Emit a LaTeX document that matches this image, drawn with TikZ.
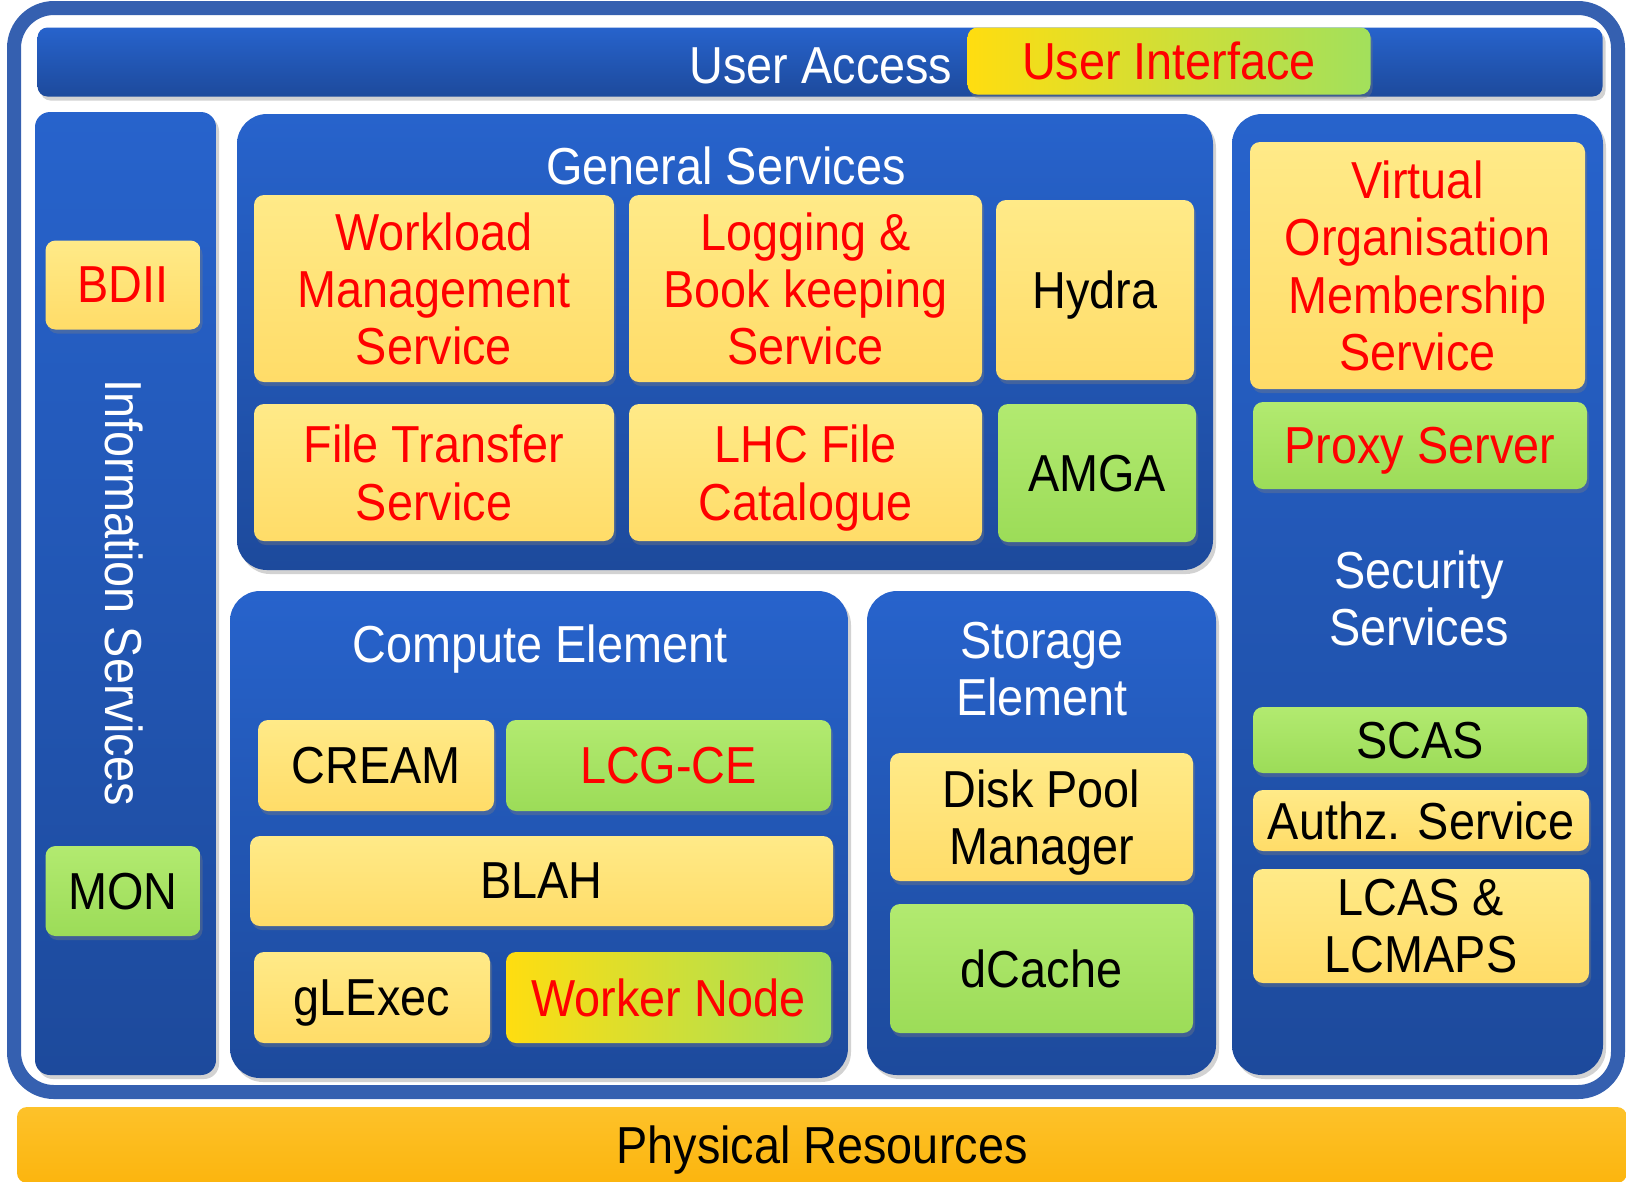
\documentclass[tikz,border=0pt]{standalone}
\usepackage{fontspec}
\setmainfont{Liberation Sans}[FakeStretch=0.9]
\usetikzlibrary{shadows}

\definecolor{frameblue}{HTML}{3560B0}
\definecolor{blu}{HTML}{2763CC}
\definecolor{bludark}{HTML}{1D4A9C}
\definecolor{ylw}{HTML}{FFDC68}
\definecolor{ylwtop}{HTML}{FFEA88}
\definecolor{grn}{HTML}{9CDC58}
\definecolor{grntop}{HTML}{B2EA70}
\definecolor{orng}{HTML}{FCB50E}
\definecolor{orngtop}{HTML}{FDC22A}
\definecolor{uiy}{HTML}{FFDD10}
\definecolor{uig}{HTML}{A2E05C}

\tikzstyle{frame} = [rectangle, rounded corners=4mm, draw=frameblue, line width=1.4mm, fill=white]
\tikzstyle{panel} = [rectangle, rounded corners=3mm, top color=blu, bottom color=bludark, drop shadow={opacity=0.35, shadow xshift=0.3mm, shadow yshift=-0.4mm}]
\tikzstyle{ybox} = [rectangle, rounded corners=1mm, align=center, text depth=0pt, top color=ylwtop, bottom color=ylw, drop shadow={opacity=0.35, shadow xshift=0.2mm, shadow yshift=-0.4mm}]
\tikzstyle{gbox} = [rectangle, rounded corners=1mm, align=center, text depth=0pt, top color=grntop, bottom color=grn, drop shadow={opacity=0.35, shadow xshift=0.2mm, shadow yshift=-0.4mm}]
\tikzstyle{ygbox} = [rectangle, rounded corners=1mm, align=center, text depth=0pt, left color=uiy, right color=uig, drop shadow={opacity=0.35, shadow xshift=0.2mm, shadow yshift=-0.4mm}]
\tikzstyle{title} = [align=center, text depth=0pt, text=white]

\begin{document}
\begin{tikzpicture}[x=0.1mm, y=-0.1mm, inner sep=0pt, font=\fontsize{14.8pt}{16.3pt}\selectfont]
\useasboundingbox (0,0) rectangle (1626,1181);

%Frame
\node (grid) [frame, minimum width=160.4mm, minimum height=108.4mm] at (816,550) {};

%User access
\node (access) [panel, rounded corners=1mm, minimum width=156.5mm, minimum height=6.9mm] at (820,62) {};
\node (accesstxt) [title] at (821,66) {User Access};
\node (ui) [ygbox, text=red, minimum width=40.3mm, minimum height=6.7mm] at (1169,61) {User Interface};

%Information
\node (info) [panel, rounded corners=1.5mm, minimum width=18.1mm, minimum height=96.3mm] at (125.5,593.5) {};
\node (infotxt) [title, rotate=-90] at (124,593) {Information Services};
\node (bdii) [ybox, text=red, minimum width=15.5mm, minimum height=8.9mm] at (123,285) {BDII};
\node (mon) [gbox, minimum width=15.5mm, minimum height=9mm] at (123,891) {MON};

%General
\node (general) [panel, minimum width=97.6mm, minimum height=45.6mm] at (725,342) {};
\node (generaltxt) [title] at (726,166) {General Services};
\node (wms) [ybox, text=red, minimum width=36mm, minimum height=18.7mm] at (434,288.5) {Workload\\Management\\Service};
\node (lb) [ybox, text=red, minimum width=35.3mm, minimum height=18.7mm] at (805.5,288.5) {Logging \&\\Book keeping\\Service};
\node (hydra) [ybox, minimum width=19.8mm, minimum height=18mm] at (1095,290) {Hydra};
\node (fts) [ybox, text=red, minimum width=36mm, minimum height=13.7mm] at (434,472.5) {File Transfer\\Service};
\node (lfc) [ybox, text=red, minimum width=35.3mm, minimum height=13.7mm] at (805.5,472.5) {LHC File\\Catalogue};
\node (amga) [gbox, minimum width=19.8mm, minimum height=13.8mm] at (1097,473) {AMGA};

%Compute
\node (ce) [panel, minimum width=61.8mm, minimum height=48.7mm] at (539,834.5) {};
\node (cetxt) [title] at (540,644) {Compute Element};
\node (cream) [ybox, minimum width=23.6mm, minimum height=9.1mm] at (376,765.5) {CREAM};
\node (lcgce) [gbox, text=red, minimum width=32.5mm, minimum height=9.1mm] at (668.5,765.5) {LCG-CE};
\node (blah) [ybox, minimum width=58.3mm, minimum height=9mm] at (541.5,881) {BLAH};
\node (glexec) [ybox, minimum width=23.6mm, minimum height=9.1mm] at (372,997.5) {gLExec};
\node (wn) [ygbox, text=red, minimum width=32.5mm, minimum height=9.1mm] at (668.5,997.5) {Worker Node};

%Storage
\node (se) [panel, minimum width=34.9mm, minimum height=48.4mm] at (1041.5,833) {};
\node (setxt) [title] at (1042,669) {Storage\\Element};
\node (dpm) [ybox, minimum width=30.3mm, minimum height=12.8mm] at (1041.5,817) {Disk Pool\\Manager};
\node (dcache) [gbox, minimum width=30.3mm, minimum height=12.9mm] at (1041.5,968.5) {dCache};

%Security
\node (sec) [panel, minimum width=37.1mm, minimum height=96.1mm] at (1417.5,594.5) {};
\node (sectxt) [title] at (1419,598) {Security\\Services};
\node (voms) [ybox, text=red, minimum width=33.5mm, minimum height=24.7mm] at (1417.5,265.5) {Virtual\\Organisation\\Membership\\Service};
\node (proxy) [gbox, text=red, minimum width=33.4mm, minimum height=8.7mm] at (1420,445.5) {Proxy Server};
\node (scas) [gbox, minimum width=33.4mm, minimum height=6.6mm] at (1420,740) {SCAS};
\node (authz) [ybox, minimum width=33.6mm, minimum height=6.1mm] at (1421,820.5) {Authz. Service};
\node (lcas) [ybox, minimum width=33.6mm, minimum height=11.4mm] at (1421,926) {LCAS \&\\LCMAPS};

%Physical
\node (phys) [rectangle, rounded corners=1mm, text depth=0pt, top color=orngtop, bottom color=orng, minimum width=161mm, minimum height=7.6mm] at (822,1145) {Physical Resources};

\end{tikzpicture}
\end{document}
